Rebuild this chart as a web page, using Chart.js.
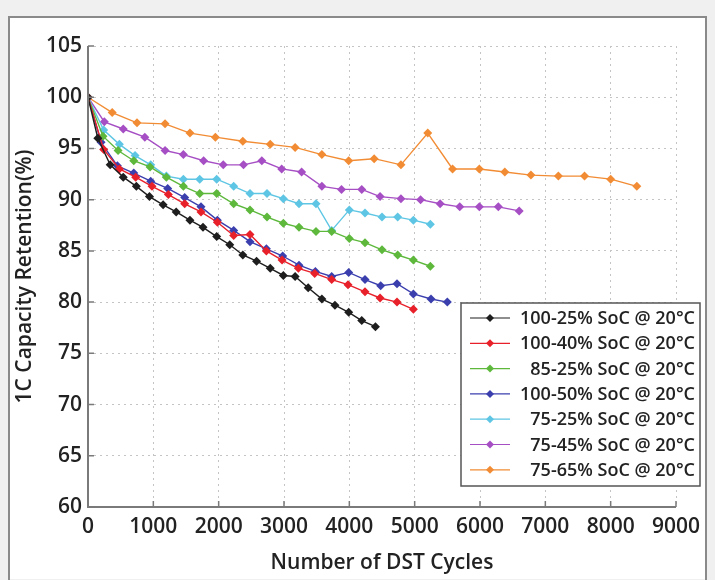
<!DOCTYPE html>
<html>
<head>
  <meta charset="UTF-8">
  <title>DST Cycles</title>
  <script src="https://cdn.jsdelivr.net/npm/chart.js"></script>
  <style>
    body { margin: 0; background: #f0f0f0; }
  </style>
</head>
<body>
  <canvas id="chart" width="715" height="580"></canvas>

  <script>
    const seriesNames = [
      '100-25% SoC @ 20°C', '100-40% SoC @ 20°C', '85-25% SoC @ 20°C', '100-50% SoC @ 20°C',
      '75-25% SoC @ 20°C', '75-45% SoC @ 20°C', '75-65% SoC @ 20°C'
    ];
    const colors = ['#1e1e1e', '#e8202a', '#5db83c', '#3b3fae', '#5ec6e4', '#a64fc4', '#f28c34'];

    const cyc100_25 = [0, 150, 340, 540, 740, 940, 1150, 1350, 1560, 1760, 1970, 2170, 2370, 2580, 2790, 2990, 3170, 3370, 3580, 3780, 3990, 4190, 4400];
    const ret100_25 = [100, 96.0, 93.4, 92.2, 91.3, 90.3, 89.5, 88.8, 88.0, 87.3, 86.4, 85.6, 84.6, 84.0, 83.3, 82.6, 82.5, 81.4, 80.3, 79.7, 79.0, 78.2, 77.6];

    const cyc100_40 = [0, 240, 480, 730, 980, 1230, 1480, 1730, 1980, 2230, 2480, 2730, 2970, 3220, 3470, 3730, 3980, 4240, 4470, 4730, 4980];
    const ret100_40 = [100, 94.9, 93.0, 92.2, 91.3, 90.5, 89.6, 88.8, 87.8, 86.5, 86.6, 85.0, 84.1, 83.3, 82.8, 82.2, 81.7, 81.0, 80.4, 80.0, 79.3];

    const cyc85_25 = [0, 230, 460, 700, 950, 1200, 1460, 1710, 1970, 2230, 2480, 2740, 2990, 3230, 3490, 3730, 4000, 4240, 4500, 4740, 4980, 5240];
    const ret85_25 = [100, 96.2, 94.8, 93.8, 93.2, 92.2, 91.3, 90.6, 90.6, 89.6, 89.0, 88.3, 87.7, 87.3, 86.9, 86.9, 86.2, 85.8, 85.1, 84.6, 84.1, 83.5];

    const cyc100_50 = [0, 200, 450, 700, 960, 1220, 1480, 1730, 1980, 2230, 2480, 2730, 2980, 3230, 3480, 3730, 3990, 4240, 4480, 4730, 4980, 5250, 5500];
    const ret100_50 = [100, 95.6, 93.3, 92.6, 91.8, 91.1, 90.2, 89.3, 88.0, 87.0, 85.9, 85.2, 84.5, 83.6, 83.0, 82.5, 82.9, 82.2, 81.6, 81.8, 80.8, 80.3, 80.0];

    const cyc75_25 = [0, 240, 480, 720, 960, 1200, 1460, 1710, 1970, 2230, 2480, 2740, 2990, 3230, 3490, 3730, 4000, 4240, 4500, 4740, 4980, 5240];
    const ret75_25 = [100, 96.8, 95.4, 94.3, 93.4, 92.3, 92.0, 92.0, 92.0, 91.3, 90.6, 90.6, 90.1, 89.6, 89.6, 87.0, 89.0, 88.7, 88.3, 88.3, 88.0, 87.6];

    const cyc75_45 = [0, 250, 540, 870, 1180, 1460, 1770, 2070, 2380, 2660, 2965, 3270, 3580, 3880, 4190, 4470, 4790, 5090, 5390, 5690, 5990, 6280, 6600];
    const ret75_45 = [100, 97.6, 96.9, 96.1, 94.8, 94.4, 93.8, 93.4, 93.4, 93.8, 93.0, 92.7, 91.3, 91.0, 91.0, 90.3, 90.1, 90.0, 89.6, 89.3, 89.3, 89.3, 88.9];

    const cyc75_65 = [0, 370, 750, 1180, 1560, 1950, 2370, 2790, 3170, 3580, 3990, 4380, 4790, 5200, 5580, 5990, 6380, 6780, 7200, 7600, 8000, 8400];
    const ret75_65 = [100, 98.5, 97.5, 97.4, 96.5, 96.1, 95.7, 95.4, 95.1, 94.4, 93.8, 94.0, 93.4, 96.5, 93.0, 93.0, 92.7, 92.4, 92.3, 92.3, 92.0, 91.3];

    const allCycles = [cyc100_25, cyc100_40, cyc85_25, cyc100_50, cyc75_25, cyc75_45, cyc75_65];
    const allRet = [ret100_25, ret100_40, ret85_25, ret100_50, ret75_25, ret75_45, ret75_65];

    const xTicks = [0, 1000, 2000, 3000, 4000, 5000, 6000, 7000, 8000, 9000];
    const yTicks = [60, 65, 70, 75, 80, 85, 90, 95, 100, 105];

    const FONT = '"Open Sans", "DejaVu Sans", sans-serif';

    const datasets = seriesNames.map((name, i) => ({
      label: name,
      data: allCycles[i].map((c, k) => ({ x: c, y: allRet[i][k] })),
      borderColor: colors[i],
      backgroundColor: colors[i],
      borderWidth: 1.4,
      pointStyle: 'rectRot',
      pointRadius: 4.5,
      pointBorderWidth: 0,
      fill: false,
      tension: 0
    }));

    // frame, inward ticks, legend box
    const paperPlugin = {
      id: 'paper',
      beforeDraw(chart) {
        const c = chart.ctx;
        c.save();
        c.fillStyle = '#f0f0f0';
        c.fillRect(0, 0, chart.width, chart.height);
        c.fillStyle = '#ffffff';
        c.fillRect(9, 17, 697, 562);
        c.strokeStyle = '#8a8a8a';
        c.lineWidth = 2;
        c.strokeRect(9, 17, 697, 570);
        c.restore();
      },
      afterDatasetsDraw(chart) {
        const c = chart.ctx;
        const a = chart.chartArea;
        const xs = chart.scales.x, ys = chart.scales.y;
        c.save();
        c.strokeStyle = '#7a7a7a';
        c.lineWidth = 2;
        c.beginPath();
        c.moveTo(a.left, a.top);
        c.lineTo(a.left, a.bottom);
        c.lineTo(a.right, a.bottom);
        c.stroke();
        c.lineWidth = 1.5;
        c.beginPath();
        xTicks.forEach(v => {
          const px = xs.getPixelForValue(v);
          c.moveTo(px, a.bottom);
          c.lineTo(px, a.bottom - 6);
        });
        yTicks.forEach(v => {
          const py = ys.getPixelForValue(v);
          c.moveTo(a.left, py);
          c.lineTo(a.left + 6, py);
        });
        c.stroke();

        // legend
        const bx = 461, by = 303, bw = 239, bh = 183;
        c.fillStyle = '#ffffff';
        c.fillRect(bx, by, bw, bh);
        c.strokeStyle = '#555';
        c.lineWidth = 1.5;
        c.strokeRect(bx, by, bw, bh);
        c.font = '600 18px ' + FONT;
        c.textAlign = 'right';
        c.textBaseline = 'middle';
        seriesNames.forEach((name, i) => {
          const y = 318 + i * 25.3;
          c.strokeStyle = colors[i];
          c.lineWidth = 1.2;
          c.beginPath();
          c.moveTo(470, y);
          c.lineTo(510, y);
          c.stroke();
          c.fillStyle = colors[i];
          c.beginPath();
          c.moveTo(490, y - 4);
          c.lineTo(494, y);
          c.lineTo(490, y + 4);
          c.lineTo(486, y);
          c.closePath();
          c.fill();
          c.fillStyle = '#222';
          c.fillText(name, 695, y + 1);
        });
        c.restore();
      }
    };

    new Chart(document.getElementById('chart'), {
      type: 'line',
      data: { datasets: datasets },
      options: {
        responsive: false,
        animation: false,
        layout: { padding: { top: 46, right: 39, left: 8, bottom: 0 } },
        plugins: { legend: { display: false }, tooltip: { enabled: false } },
        scales: {
          x: {
            type: 'linear',
            min: 0, max: 9000,
            afterBuildTicks: s => { s.ticks = xTicks.map(v => ({ value: v })); },
            afterFit: s => { s.height = 73; },
            grid: { color: '#c4c4c4', drawTicks: false },
            border: { display: false, dash: [2, 4] },
            ticks: { color: '#222', font: { family: FONT, size: 21, weight: '600' }, padding: 7, maxRotation: 0, callback: v => String(v) },
            title: { display: true, text: 'Number of DST Cycles', color: '#222', font: { family: FONT, size: 21, weight: '600' }, padding: { top: 0 } }
          },
          y: {
            min: 60, max: 105,
            afterBuildTicks: s => { s.ticks = yTicks.map(v => ({ value: v })); },
            afterFit: s => { s.width = 80; },
            grid: { color: '#c4c4c4', drawTicks: false },
            border: { display: false, dash: [2, 4] },
            ticks: { color: '#222', font: { family: FONT, size: 21, weight: '600' }, padding: 6 },
            title: { display: true, text: '1C Capacity Retention(%)', color: '#222', font: { family: FONT, size: 21, weight: '600' }, padding: { bottom: 0 } }
          }
        }
      },
      plugins: [paperPlugin]
    });
  </script>
</body>
</html>
